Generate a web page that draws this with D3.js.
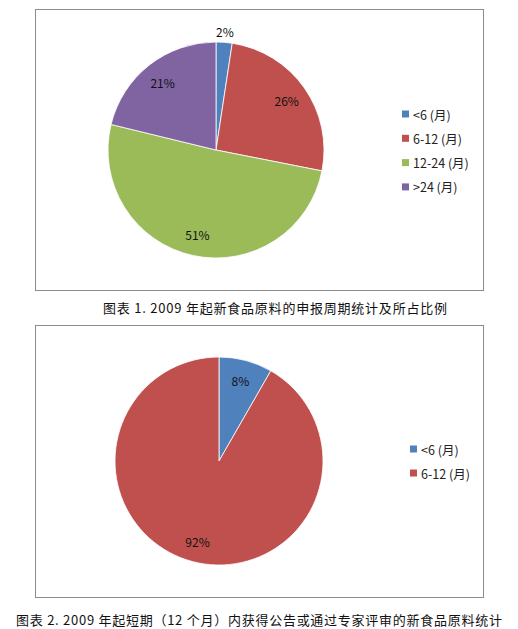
<!DOCTYPE html>
<html><head><meta charset="utf-8">
<script src="https://cdn.jsdelivr.net/npm/d3@7"></script>
<style>body{margin:0;background:#fff}svg{display:block}</style>
</head><body>
<svg id="c" width="518" height="629"></svg>
<script>
// Chart 1 data
const cats1 = ["<6 (月)", "6-12 (月)", "12-24 (月)", ">24 (月)"];
const vals1 = [2.4, 25.7, 50.7, 21.2];
const caption1 = "图表  1. 2009 年起新食品原料的申报周期统计及所占比例";
// Chart 2 data
const cats2 = ["<6 (月)", "6-12 (月)"];
const vals2 = [8.3, 91.7];
const caption2 = "图表  2. 2009 年起短期（12 个月）内获得公告或通过专家评审的新食品原料统计";
const colors = ["#4F81BD", "#C0504D", "#9BBB59", "#8064A2"];

const svg = d3.select("#c");
const FONT = "'Noto Sans CJK SC', 'DejaVu Sans', sans-serif";

function drawPie(cfg) {
  const g = svg.append("g");
  g.append("rect").attr("x", cfg.box[0] + 0.5).attr("y", cfg.box[1] + 0.5)
    .attr("width", cfg.box[2]).attr("height", cfg.box[3])
    .attr("fill", "#fff").attr("stroke", "#8c8c8c").attr("stroke-width", 1);
  const total = d3.sum(cfg.vals);
  const pie = d3.pie().sort(null).value(d => d)(cfg.vals);
  const arc = d3.arc().innerRadius(0).outerRadius(cfg.r);
  const color = d3.scaleOrdinal().domain(cfg.cats).range(colors);
  const pg = g.append("g").attr("transform", `translate(${cfg.cx},${cfg.cy})`);
  pg.selectAll("path").data(pie).join("path")
    .attr("d", arc).attr("fill", (d, i) => color(cfg.cats[i]))
    .attr("stroke", "#fff").attr("stroke-width", 0.8);
  const fmt = d3.format(".0%");
  pg.selectAll("text").data(pie).join("text")
    .attr("transform", d => {
      const frac = (d.endAngle - d.startAngle) / (2 * Math.PI);
      const rr = frac < 0.05 ? cfg.r + 11 : cfg.r * 0.8;
      const a = (d.startAngle + d.endAngle) / 2;
      return `translate(${rr * Math.sin(a)},${-rr * Math.cos(a)})`;
    })
    .attr("text-anchor", "middle").attr("dominant-baseline", "central")
    .attr("font-family", FONT).attr("font-size", 12).attr("fill", "#111")
    .text(d => fmt(d.data / total));
  const lg = g.append("g");
  const y = d3.scalePoint().domain(cfg.cats).range([cfg.legY, cfg.legY + cfg.legStep * (cfg.cats.length - 1)]);
  const items = lg.selectAll("g").data(cfg.cats).join("g")
    .attr("transform", d => `translate(${cfg.legX},${y(d)})`);
  items.append("rect").attr("x", 0).attr("y", -3.5).attr("width", 7).attr("height", 7)
    .attr("fill", d => color(d));
  items.append("text").attr("x", 11).attr("y", 0).attr("dominant-baseline", "central")
    .attr("font-family", FONT).attr("font-size", 12.5).attr("fill", "#222").text(d => d);
  svg.append("text").attr("x", cfg.capX).attr("y", cfg.capY)
    .attr("dominant-baseline", "central")
    .attr("font-family", FONT).attr("font-size", 13).attr("fill", "#111")
    .attr("textLength", cfg.capW).attr("lengthAdjust", "spacing")
    .text(cfg.caption);
}

drawPie({cats: cats1, vals: vals1, caption: caption1, box: [35, 9, 448, 281],
  cx: 216, cy: 150, r: 108, legX: 402, legY: 114, legStep: 24.3,
  capX: 103, capY: 307, capW: 344});
drawPie({cats: cats2, vals: vals2, caption: caption2, box: [35, 325, 448, 272],
  cx: 219, cy: 461, r: 104, legX: 410, legY: 449, legStep: 24,
  capX: 16, capY: 619, capW: 486});
</script>
</body></html>
